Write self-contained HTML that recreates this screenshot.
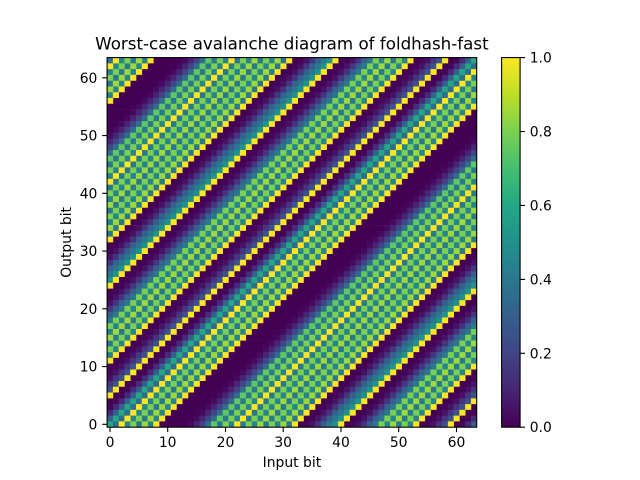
<!DOCTYPE html>
<html>
<head>
<meta charset="utf-8">
<style>
html,body{margin:0;padding:0;background:#fff;}
svg{display:block;}
text{font-family:"DejaVu Sans","Liberation Sans",sans-serif;fill:#000;}
</style>
</head>
<body>
<svg xmlns="http://www.w3.org/2000/svg" xmlns:xlink="http://www.w3.org/1999/xlink" width="640" height="480" viewBox="0 0 640 480">
<rect x="0" y="0" width="640" height="480" fill="#ffffff"/>
<defs>
<g id="p">
<path fill="#440154" d="M8 0h4.06v1.06H8z M32 0h1.06v1.06H32z M40 0h1.06v1.06H40z M53 0h1.06v1.06H53z M59 0h1.06v1.06H59z"/>
<path fill="#440256" d="M12 0h1.06v1.06H12z"/>
<path fill="#460b5e" d="M13 0h1.06v1.06H13z"/>
<path fill="#482475" d="M14 0h1.06v1.06H14z"/>
<path fill="#414487" d="M15 0h1.06v1.06H15z"/>
<path fill="#450457" d="M33 0h1.06v1.06H33z M41 0h1.06v1.06H41z M54 0h1.06v1.06H54z"/>
<path fill="#471365" d="M34 0h1.06v1.06H34z M42 0h1.06v1.06H42z M55 0h1.06v1.06H55z"/>
<path fill="#463480" d="M35 0h1.06v1.06H35z M43 0h1.06v1.06H43z M56 0h1.06v1.06H56z"/>
<path fill="#355f8d" d="M36 0h1.06v1.06H36z M44 0h1.06v1.06H44z M62 0h1.06v1.06H62z"/>
<path fill="#3b528b" d="M57 0h1.06v1.06H57z"/>
<path fill="#450559" d="M60 0h1.06v1.06H60z"/>
<path fill="#472a7a" d="M61 0h1.06v1.06H61z"/>
<path fill="#2f6c8e" d="M0 0h1.06v1.06H0z M16 0h1.06v1.06H16z"/>
<path fill="#2a788e" d="M4 0h1.06v1.06H4z M18 0h1.06v1.06H18z M22 0h1.06v1.06H22z M26 0h1.06v1.06H26z M30 0h1.06v1.06H30z M37 0h1.06v1.06H37z M45 0h1.06v1.06H45z M49 0h1.06v1.06H49z"/>
<path fill="#25848e" d="M2 0h1.06v1.06H2z M6 0h1.06v1.06H6z M20 0h1.06v1.06H20z M24 0h1.06v1.06H24z M28 0h1.06v1.06H28z M47 0h1.06v1.06H47z M51 0h1.06v1.06H51z"/>
<path fill="#21918c" d="M38 0h1.06v1.06H38z"/>
<path fill="#22a884" d="M63 0h1.06v1.06H63z"/>
<path fill="#5ec962" d="M17 0h1.06v1.06H17z"/>
<path fill="#7ad151" d="M3 0h1.06v1.06H3z M19 0h1.06v1.06H19z M23 0h1.06v1.06H23z M27 0h1.06v1.06H27z M46 0h1.06v1.06H46z M50 0h1.06v1.06H50z"/>
<path fill="#9bd93c" d="M5 0h1.06v1.06H5z M25 0h1.06v1.06H25z M29 0h1.06v1.06H29z M48 0h1.06v1.06H48z"/>
<path fill="#fde725" d="M1 0h1.06v1.06H1z M7 0h1.06v1.06H7z M21 0h1.06v1.06H21z M31 0h1.06v1.06H31z M39 0h1.06v1.06H39z M52 0h1.06v1.06H52z M58 0h1.06v1.06H58z"/>
</g>
<g id="s"><use href="#p" xlink:href="#p"/><use href="#p" xlink:href="#p" x="64"/></g>
<g id="r2"><use href="#s" xlink:href="#s"/><use href="#s" xlink:href="#s" x="-1" y="1"/></g>
<g id="r4"><use href="#r2" xlink:href="#r2"/><use href="#r2" xlink:href="#r2" x="-2" y="2"/></g>
<g id="r8"><use href="#r4" xlink:href="#r4"/><use href="#r4" xlink:href="#r4" x="-4" y="4"/></g>
<g id="r16"><use href="#r8" xlink:href="#r8"/><use href="#r8" xlink:href="#r8" x="-8" y="8"/></g>
<g id="r32"><use href="#r16" xlink:href="#r16"/><use href="#r16" xlink:href="#r16" x="-16" y="16"/></g>
<clipPath id="c"><rect x="0" y="0" width="64" height="64"/></clipPath>
<linearGradient id="vg" x1="0" y1="1" x2="0" y2="0">
<stop offset="0" stop-color="#440154"/>
<stop offset="0.1" stop-color="#482475"/>
<stop offset="0.2" stop-color="#414487"/>
<stop offset="0.3" stop-color="#355f8d"/>
<stop offset="0.4" stop-color="#2a788e"/>
<stop offset="0.5" stop-color="#21918c"/>
<stop offset="0.6" stop-color="#22a884"/>
<stop offset="0.7" stop-color="#44bf70"/>
<stop offset="0.8" stop-color="#7ad151"/>
<stop offset="0.9" stop-color="#bddf26"/>
<stop offset="1" stop-color="#fde725"/>
</linearGradient>
</defs>
<g transform="translate(107.1,57.6) scale(5.775)" clip-path="url(#c)">
<use href="#r32" xlink:href="#r32"/>
<use href="#r32" xlink:href="#r32" x="-32" y="32"/>
</g>
<rect x="107.1" y="57.6" width="369.6" height="369.6" fill="none" stroke="#000" stroke-width="1.1"/>
<path stroke="#000" stroke-width="1.1" fill="none" d="M110.0 427.2v4.9 M167.7 427.2v4.9 M225.5 427.2v4.9 M283.2 427.2v4.9 M341.0 427.2v4.9 M398.7 427.2v4.9 M456.5 427.2v4.9 M102.2 424.3h4.9 M102.2 366.6h4.9 M102.2 308.8h4.9 M102.2 251.1h4.9 M102.2 193.3h4.9 M102.2 135.6h4.9 M102.2 77.8h4.9"/>
<g font-size="13.9" text-anchor="middle">
<text x="110.0" y="447">0</text>
<text x="167.7" y="447">10</text>
<text x="225.5" y="447">20</text>
<text x="283.2" y="447">30</text>
<text x="341.0" y="447">40</text>
<text x="398.7" y="447">50</text>
<text x="456.5" y="447">60</text>
</g>
<g font-size="13.9" text-anchor="end">
<text x="97.4" y="429.3">0</text>
<text x="97.4" y="371.6">10</text>
<text x="97.4" y="313.8">20</text>
<text x="97.4" y="256.1">30</text>
<text x="97.4" y="198.3">40</text>
<text x="97.4" y="140.6">50</text>
<text x="97.4" y="82.8">60</text>
</g>
<text x="291.9" y="467" font-size="13.9" text-anchor="middle">Input bit</text>
<text transform="translate(71,242.4) rotate(-90)" font-size="13.9" text-anchor="middle">Output bit</text>
<text x="291.9" y="49.3" font-size="16.7" text-anchor="middle">Worst-case avalanche diagram of foldhash-fast</text>
<rect x="501.6" y="57.6" width="18.5" height="369.6" fill="url(#vg)"/>
<rect x="501.6" y="57.6" width="18.5" height="369.6" fill="none" stroke="#000" stroke-width="1.1"/>
<path stroke="#000" stroke-width="1.1" fill="none" d="M520.1 427.2h4.9 M520.1 353.3h4.9 M520.1 279.4h4.9 M520.1 205.4h4.9 M520.1 131.5h4.9 M520.1 57.6h4.9"/>
<g font-size="13.9" text-anchor="start">
<text x="529.7" y="432.2">0.0</text>
<text x="529.7" y="358.3">0.2</text>
<text x="529.7" y="284.4">0.4</text>
<text x="529.7" y="210.4">0.6</text>
<text x="529.7" y="136.5">0.8</text>
<text x="529.7" y="62.6">1.0</text>
</g>
</svg>
</body>
</html>
